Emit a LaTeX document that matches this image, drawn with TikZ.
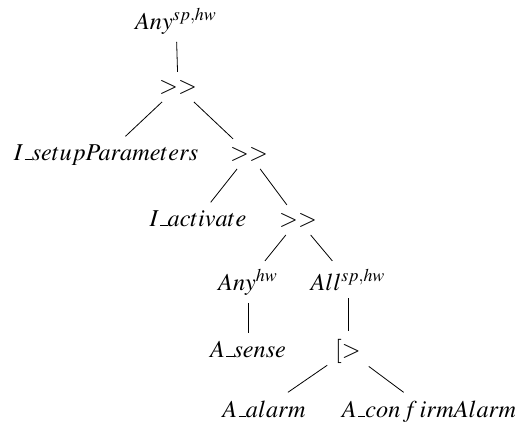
\documentclass[tikz,border=0pt]{standalone}
\usepackage{mathptmx}
\newcommand{\usc}{\mbox{\kern.06em\vbox{\hrule width.3em}}}
\tikzset{op/.style={inner sep=4pt, outer sep=0pt, anchor=base, font=\fontsize{12.1}{14}\selectfont}}
\begin{document}
\begin{tikzpicture}[x=0.5pt,y=-0.5pt]
\useasboundingbox (0,0) rectangle (515,429);
\node [op] (anytop) at (176,29) {$Any^{sp,hw}$};
\node [op] (seqa) at (178,93) {$>>$};
\node [op] (setup) at (106,160) {$I\usc setupParameters$};
\node [op] (seqb) at (249,160) {$>>$};
\node [op] (activate) at (198,226) {$I\usc activate$};
\node [op] (seqc) at (298,226) {$>>$};
\node [op] (anyhw) at (248,290) {$Any^{hw}$};
\node [op] (allsphw) at (348,290) {$All^{sp,hw}$};
\node [op] (sense) at (248,357) {$A\usc sense$};
\node [op] (disable) at (348,357) {$[>$};
\node [op] (alarm) at (264,417) {$A\usc alarm$};
\node [op] (confirm) at (429,417) {$A\usc con\,f\,irmAlarm$};
\draw (anytop) -- (seqa);
\draw (seqa) -- (setup);
\draw (seqa) -- (seqb);
\draw (seqb) -- (activate);
\draw (seqb) -- (seqc);
\draw (seqc) -- (anyhw);
\draw (seqc) -- (allsphw);
\draw (anyhw) -- (sense);
\draw (allsphw) -- (disable);
\draw (disable) -- (alarm);
\draw (disable) -- (confirm);
\end{tikzpicture}
\end{document}
